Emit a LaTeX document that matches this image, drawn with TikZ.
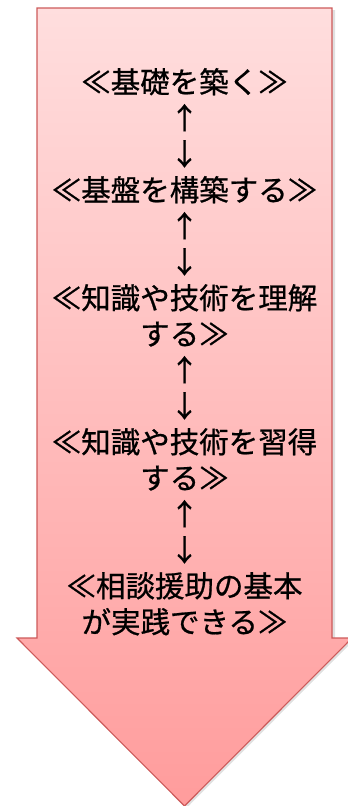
\documentclass[tikz,border=0pt]{standalone}
\usepackage{fontspec}
\newfontfamily\jpfont[FakeBold=0.7]{Noto Sans CJK JP}
\definecolor{topfill}{RGB}{255,222,222}
\definecolor{botfill}{RGB}{255,156,156}
\definecolor{edgered}{RGB}{205,90,90}
\begin{document}
\begin{tikzpicture}[x=1pt,y=-1pt,
  line/.style={anchor=base,inner sep=0pt,font=\jpfont\fontsize{29.5}{36}\selectfont,text=black}]
\useasboundingbox (0,0) rectangle (348,806);
\clip (0,0) rectangle (348,806);
% shadow
\fill[black,opacity=0.12] (39,10) -- (335,10) -- (335,640) -- (354,640) -- (186.5,808) -- (19,640) -- (39,640) -- cycle;
% arrow body
\shade[top color=topfill,bottom color=botfill] (37,8) -- (332,8) -- (332,638) -- (352,638) -- (184.5,806) -- (17,638) -- (37,638) -- cycle;
\draw[edgered,line width=1.1pt,line join=miter] (37,8) -- (332,8) -- (332,638) -- (352,638) -- (184.5,806) -- (17,638) -- (37,638) -- cycle;
% texts (baseline = 93 + 36k)
\node[line] (s1)  at (184.5,93)  {≪基礎を築く≫};
\node[line] (u1)  at (184.5,129) {↑};
\node[line] (d1)  at (184.5,165) {↓};
\node[line] (s2)  at (184.5,201) {≪基盤を構築する≫};
\node[line] (u2)  at (184.5,237) {↑};
\node[line] (d2)  at (184.5,273) {↓};
\node[line] (s3a) at (184.5,309) {≪知識や技術を理解};
\node[line] (s3b) at (184.5,345) {する≫};
\node[line] (u3)  at (184.5,381) {↑};
\node[line] (d3)  at (184.5,417) {↓};
\node[line] (s4a) at (184.5,453) {≪知識や技術を習得};
\node[line] (s4b) at (184.5,489) {する≫};
\node[line] (u4)  at (184.5,525) {↑};
\node[line] (d4)  at (184.5,561) {↓};
\node[line] (s5a) at (184.5,597) {≪相談援助の基本};
\node[line] (s5b) at (184.5,633) {が実践できる≫};
\end{tikzpicture}
\end{document}
